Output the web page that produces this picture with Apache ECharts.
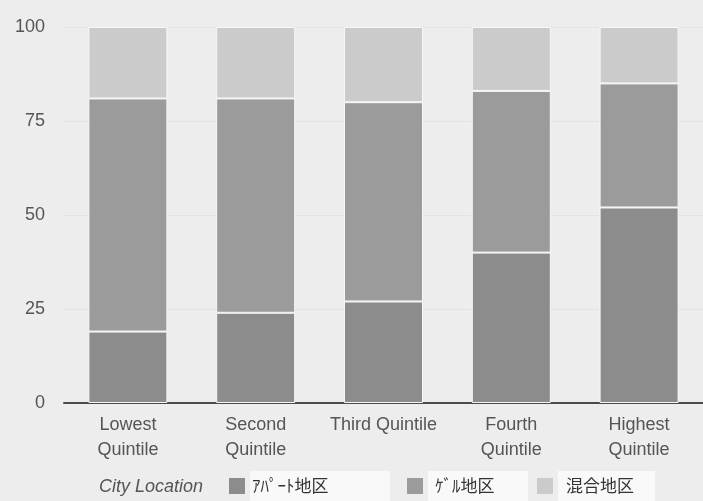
<!DOCTYPE html>
<html>
<head>
<meta charset="utf-8">
<style>
  html, body { margin: 0; padding: 0; background: #ededed; }
  #chart { width: 703px; height: 501px; }
</style>
<script src="https://cdn.jsdelivr.net/npm/echarts@6/dist/echarts.min.js"></script>
</head>
<body>
<div id="chart"></div>
<script>
// Income quintiles (x axis)
const categories = ['Lowest\nQuintile', 'Second\nQuintile', 'Third Quintile', 'Fourth\nQuintile', 'Highest\nQuintile'];

// Share of households by city location, percent
const apartValues = [19, 24, 27, 40, 52];   // ｱﾊﾟｰﾄ地区
const gerValues   = [62, 57, 53, 43, 33];   // ｹﾞﾙ地区
const mixedValues = [19, 19, 20, 17, 15];   // 混合地区

const seriesNames = ['ｱﾊﾟｰﾄ地区', 'ｹﾞﾙ地区', '混合地区'];
const yTicks = [0, 25, 50, 75, 100];

const colors = ['#8c8c8c', '#9b9b9b', '#cbcbcb'];
const fontFamily = 'Liberation Sans, Arial, sans-serif';

const chart = echarts.init(document.getElementById('chart'), null, { renderer: 'canvas' });

function barSeries(name, data, color) {
  return {
    name: name,
    type: 'bar',
    stack: 'total',
    data: data,
    barWidth: 79,
    itemStyle: { color: color, borderColor: '#f7f7f7', borderWidth: 1 },
    emphasis: { disabled: true }
  };
}

function legendItem(name, left, textWidth, padLeft) {
  return {
    data: [name],
    left: left,
    top: 471,
    padding: 0,
    orient: 'horizontal',
    icon: 'rect',
    itemWidth: 16,
    itemHeight: 16,
    itemGap: 0,
    selectedMode: false,
    itemStyle: { borderWidth: 0 },
    textStyle: {
      color: '#333',
      fontSize: 17,
      fontFamily: 'Noto Sans CJK JP, sans-serif',
      backgroundColor: '#f9f9f9',
      width: textWidth,
      padding: [5, 2, 5, padLeft],
      lineHeight: 20
    }
  };
}

chart.setOption({
  backgroundColor: '#ededed',
  animation: false,
  color: colors,
  grid: { left: 64, right: -6, top: 27, bottom: 98, containLabel: false },
  xAxis: {
    type: 'category',
    data: categories,
    axisLine: { show: true, lineStyle: { color: '#4a4a4a', width: 2 } },
    axisTick: { show: false },
    axisLabel: {
      color: '#555',
      fontSize: 18,
      fontFamily: fontFamily,
      lineHeight: 25,
      margin: 10,
      interval: 0
    }
  },
  yAxis: {
    type: 'value',
    min: yTicks[0],
    max: yTicks[yTicks.length - 1],
    interval: 25,
    axisLine: { show: false },
    axisTick: { show: false },
    splitLine: { lineStyle: { color: '#e3e3e3', width: 1 } },
    axisLabel: { color: '#555', fontSize: 18, fontFamily: fontFamily, margin: 19 }
  },
  legend: [
    legendItem(seriesNames[0], 229, 136, 2),
    legendItem(seriesNames[1], 407, 91, 7),
    legendItem(seriesNames[2], 537, 87, 8)
  ],
  graphic: [{
    type: 'text',
    left: 99,
    top: 478,
    style: {
      text: 'City Location',
      fill: '#555',
      font: 'italic 18px ' + fontFamily
    }
  }],
  series: [
    barSeries(seriesNames[0], apartValues, colors[0]),
    barSeries(seriesNames[1], gerValues, colors[1]),
    barSeries(seriesNames[2], mixedValues, colors[2])
  ]
});
</script>
</body>
</html>
